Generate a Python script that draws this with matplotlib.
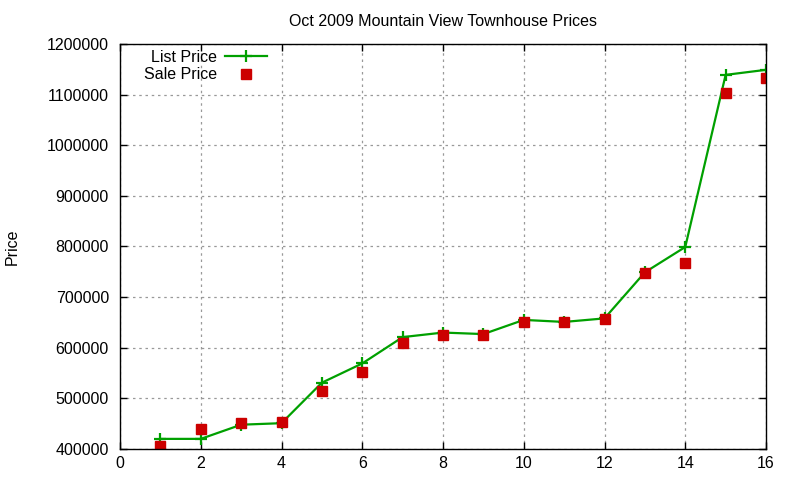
import numpy as np
import matplotlib
matplotlib.use("Agg")
import matplotlib.pyplot as plt

# ─── Data ────────────────────────────────────────────────────────────
house = [1, 2, 3, 4, 5, 6, 7, 8, 9, 10, 11, 12, 13, 14, 15, 16]
list_price = [420000, 420000, 448000, 451000, 531000, 569000, 621000, 630000,
              627000, 655000, 651000, 658000, 749000, 799000, 1139000, 1149000]
sale_price = [406000, 440000, 452000, 454000, 515000, 553000, 610000, 626000,
              625000, 650000, 650000, 656000, 748000, 768000, 1104000, 1132000]
x_ticks = np.arange(0, 17, 2)
y_ticks = np.arange(400000, 1200001, 100000)

GREEN = "#00a000"
RED = "#cc0000"
FS = 11.5

plt.rcParams["font.family"] = ["Liberation Sans", "DejaVu Sans"]
plt.rcParams["font.size"] = FS

fig = plt.figure(figsize=(8, 4.8), dpi=100)
ax = fig.add_axes([120 / 800, 1 - 449 / 480, 646 / 800, 405 / 480])

ax.plot(house, list_price, color=GREEN, linewidth=1.6, marker="+",
        markersize=9, markeredgewidth=1.6, label="List Price")
ax.plot(house, sale_price, linestyle="none", color=RED, marker="s",
        markersize=7, label="Sale Price")

ax.set_xlim(0, 16)
ax.set_ylim(400000, 1200000)
ax.set_xticks(x_ticks)
ax.set_yticks(y_ticks)
ax.ticklabel_format(axis="y", style="plain", useOffset=False)
ax.tick_params(direction="in", top=True, right=True, length=5, width=1,
               labelsize=FS, colors="black")
ax.tick_params(axis="y", pad=8)
ax.tick_params(axis="x", pad=5)
ax.grid(True, color="#999999", linestyle=(0, (2, 3)), linewidth=0.9)
for s in ax.spines.values():
    s.set_linewidth(1)

ax.set_title("Oct 2009 Mountain View Townhouse Prices", fontsize=FS, pad=13)
# y label sits near the left edge of the figure
fig.text(12 / 800, 1 - 247 / 480, "Price", rotation=90, ha="center",
         va="center", fontsize=FS)

leg = ax.legend(loc="upper left", bbox_to_anchor=(0.02, 1.013), frameon=False,
                markerfirst=False, handlelength=2.6, handletextpad=0.5,
                labelspacing=0.15, borderpad=0.2, fontsize=FS)
for t in leg.get_texts():
    t.set_ha("right")
leg._legend_box.align = "right"

fig.savefig("out.png", dpi=100)
